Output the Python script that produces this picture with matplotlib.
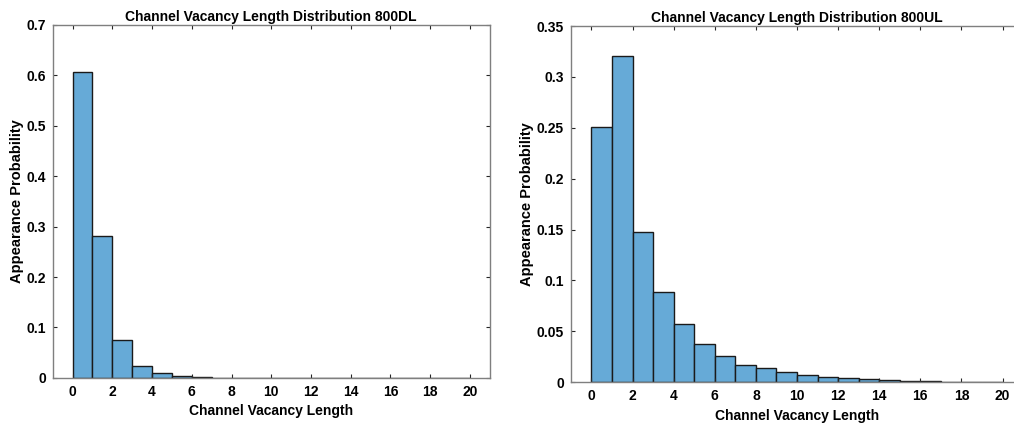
import matplotlib.pyplot as plt
import numpy as np

plt.rcParams['font.family'] = ['Liberation Sans', 'DejaVu Sans']
plt.rcParams['font.weight'] = 'bold'

# ── Data ──────────────────────────────────────────────────────────────────────
BIN_EDGES = np.arange(0, 21)          # vacancy length bins 0..20, width 1

PROB_DL = [0.607, 0.282, 0.075, 0.024, 0.009, 0.003, 0.001, 0.0005,
           0.0003, 0.0002, 0.0001, 0.0001, 0.0, 0.0, 0.0, 0.0,
           0.0, 0.0, 0.0, 0.0]
PROB_UL = [0.251, 0.321, 0.148, 0.089, 0.057, 0.038, 0.026, 0.017,
           0.014, 0.0096, 0.0073, 0.005, 0.0037, 0.003, 0.002, 0.0013,
           0.0009, 0.0006, 0.0004, 0.0003]

X_TICKS    = np.arange(0, 21, 2)
Y_TICKS_DL = np.arange(0, 0.71, 0.1)
Y_TICKS_UL = np.arange(0, 0.351, 0.05)

BAR_COLOR  = '#66aad7'
EDGE_COLOR = '#1a1a1a'
AX_COLOR   = '#262626'


def fmt(v):
    return f'{v:.2f}'.rstrip('0').rstrip('.')


def draw_hist(ax, probs, yticks, title):
    ax.bar(BIN_EDGES[:-1], probs, width=1.0, align='edge',
           color=BAR_COLOR, edgecolor=EDGE_COLOR, linewidth=1.0)
    ax.set_xlim(-1, 21)
    ax.set_ylim(yticks[0], yticks[-1])
    ax.set_xticks(X_TICKS)
    ax.set_xticklabels([str(t) for t in X_TICKS])
    ax.set_yticks(yticks)
    ax.set_yticklabels([fmt(t) for t in yticks])
    ax.tick_params(direction='in', top=True, right=True, length=3,
                   width=0.8, colors=AX_COLOR, labelsize=10, pad=5)
    for lbl in ax.get_xticklabels() + ax.get_yticklabels():
        lbl.set_fontweight('bold')
        lbl.set_color('black')
    for sp in ax.spines.values():
        sp.set_color('#7f7f7f')
        sp.set_linewidth(1.0)
    ax.set_title(title, fontsize=10, fontweight='bold', pad=3)
    ax.set_xlabel('Channel Vacancy Length', fontsize=10, fontweight='bold',
                  labelpad=4)
    ax.set_ylabel('Appearance Probability', fontsize=10.5, fontweight='bold',
                  labelpad=2)


fig = plt.figure(figsize=(10.14, 4.28), dpi=100)
ax_dl = fig.add_axes([0.052, 0.117, 0.431, 0.825])
ax_ul = fig.add_axes([0.563, 0.107, 0.446, 0.832])

draw_hist(ax_dl, PROB_DL, Y_TICKS_DL,
          'Channel Vacancy Length Distribution 800DL')
draw_hist(ax_ul, PROB_UL, Y_TICKS_UL,
          'Channel Vacancy Length Distribution 800UL')

fig.savefig('out.png', dpi=100)
plt.close(fig)
